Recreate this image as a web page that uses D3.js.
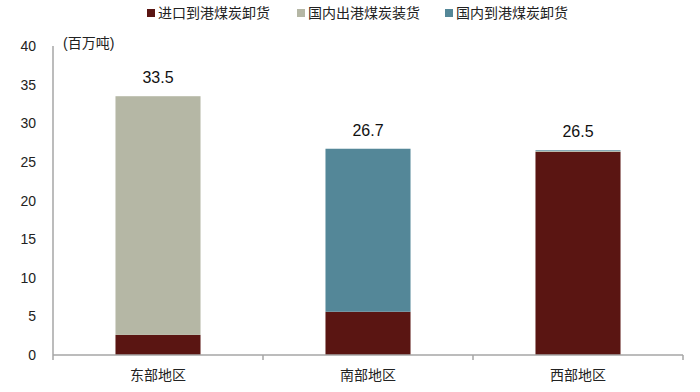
<!DOCTYPE html>
<html><head><meta charset="utf-8">
<script src="https://cdn.jsdelivr.net/npm/d3@7"></script>
<style>body{margin:0;background:#fff}svg{display:block}text{font-family:"Liberation Sans","Noto Sans CJK SC",sans-serif}</style>
</head><body><svg id="c" width="700" height="392"></svg>
<script>
const categories = ["东部地区","南部地区","西部地区"];
const seriesNames = ["进口到港煤炭卸货","国内出港煤炭装货","国内到港煤炭卸货"];
const importUnload = [2.6, 5.6, 26.3];
const domesticLoad = [30.9, 0, 0.1];
const domesticUnload = [0, 21.1, 0.1];
const totals = [33.5, 26.7, 26.5];
const yTicks = [0,5,10,15,20,25,30,35,40];
const colors = ["#5a1512","#b5b7a5","#548798"];

const svg = d3.select("#c");
const m = {l:53, r:683, t:46, b:355};
const x = d3.scaleBand().domain(categories).range([m.l, m.r]).paddingInner(0.595).paddingOuter(0.2975);
const xb = d3.scaleBand().domain(categories).range([m.l, m.r]);
const y = d3.scaleLinear().domain([0,40]).range([m.b, m.t]);

const data = categories.map((c,i)=>({cat:c, s0:importUnload[i], s1:domesticLoad[i], s2:domesticUnload[i]}));
const stack = d3.stack().keys(["s0","s1","s2"])(data);

svg.append("g").selectAll("g").data(stack).join("g").attr("fill",(d,i)=>colors[i])
  .selectAll("rect").data(d=>d).join("rect")
  .attr("x",d=>x(d.data.cat)).attr("width",x.bandwidth())
  .attr("y",d=>y(d[1])).attr("height",d=>y(d[0])-y(d[1]));

// y axis labels
svg.append("g").selectAll("text").data(yTicks).join("text")
  .attr("x",36).attr("y",d=>y(d)+5).attr("text-anchor","end")
  .attr("font-size",14).attr("fill","#222").text(d=>d);

// axes lines
svg.append("line").attr("x1",m.l).attr("x2",m.l).attr("y1",m.t).attr("y2",m.b+5).attr("stroke","#a6a6a6").attr("stroke-width",1.5);
svg.append("line").attr("x1",m.l).attr("x2",m.r).attr("y1",m.b).attr("y2",m.b).attr("stroke","#a6a6a6").attr("stroke-width",1.5);
const bounds = categories.map(c=>xb(c)+xb.bandwidth()).slice(0);
svg.append("g").selectAll("line").data(bounds).join("line")
  .attr("x1",d=>d).attr("x2",d=>d).attr("y1",m.b).attr("y2",m.b+5).attr("stroke","#a6a6a6").attr("stroke-width",1.5);

// x labels
svg.append("g").selectAll("text").data(categories).join("text")
  .attr("x",d=>xb(d)+xb.bandwidth()/2).attr("y",380).attr("text-anchor","middle")
  .attr("font-size",14).attr("fill","#222").text(d=>d);

// totals
svg.append("g").selectAll("text").data(categories).join("text")
  .attr("x",d=>xb(d)+xb.bandwidth()/2).attr("y",(d,i)=>y(totals[i])-13).attr("text-anchor","middle")
  .attr("font-size",16).attr("fill","#111").text((d,i)=>totals[i].toFixed(1));

// unit
svg.append("text").attr("x",63).attr("y",48).attr("font-size",14).attr("fill","#222").text("(百万吨)");

// legend
const lx = [147, 297, 445];
const lg = svg.append("g").selectAll("g").data(seriesNames).join("g").attr("transform",(d,i)=>`translate(${lx[i]},0)`);
lg.append("rect").attr("x",0).attr("y",9).attr("width",8).attr("height",8).attr("fill",(d,i)=>colors[i]);
lg.append("text").attr("x",11).attr("y",18).attr("font-size",14).attr("fill","#222").text(d=>d);
</script></body></html>
